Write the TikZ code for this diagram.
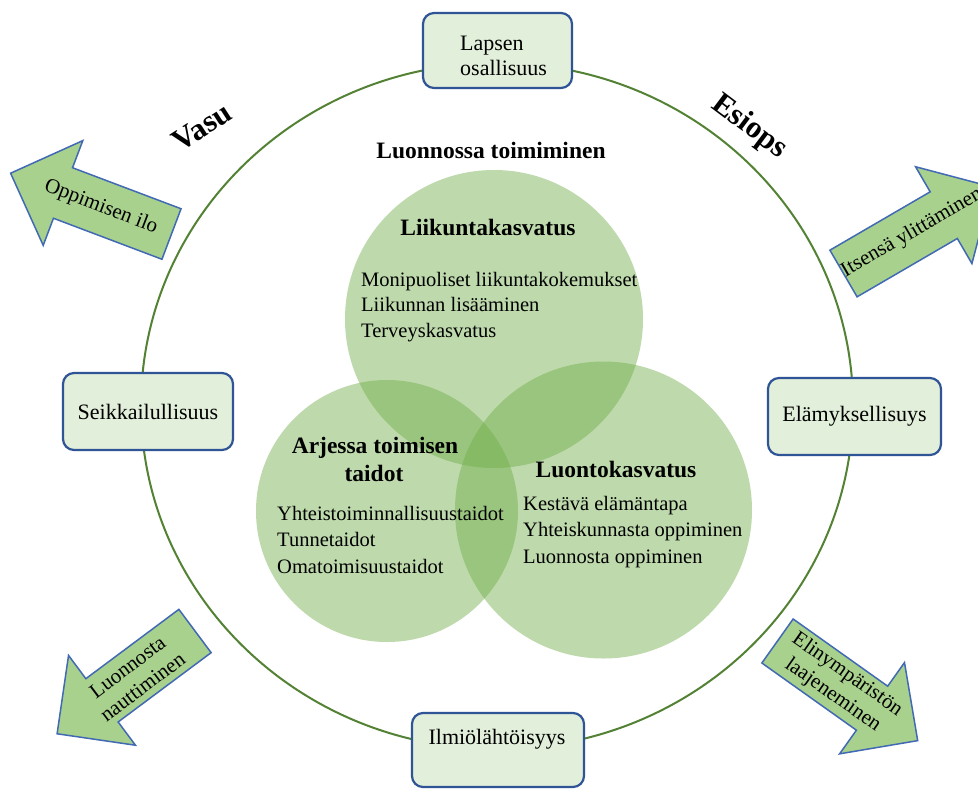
\documentclass[tikz,border=0pt]{standalone}
\usepackage{fontspec}
\setmainfont{Liberation Serif}
\usetikzlibrary{shapes.geometric}
\definecolor{boxblue}{RGB}{47,85,151}
\definecolor{boxfill}{RGB}{226,239,218}
\definecolor{arrfill}{RGB}{169,209,142}
\definecolor{arrblue}{RGB}{65,105,180}
\definecolor{ringgreen}{RGB}{84,130,53}
\definecolor{venngreen}{RGB}{112,173,71}
\tikzset{
  box/.style={draw=boxblue, fill=boxfill, line width=2.2pt, rounded corners=11pt, inner sep=0pt},
  arr/.style={draw=arrblue, fill=arrfill, line width=1.5pt, line join=miter},
  venn/.style={circle, fill=venngreen, fill opacity=0.45, inner sep=0pt},
  itemtext/.style={font=\fontsize{20.5}{25}\selectfont, inner sep=0pt},
  headtext/.style={font=\bfseries\fontsize{23.5}{28}\selectfont, inner sep=0pt},
  boxtext/.style={font=\fontsize{22}{28}\selectfont, inner sep=0pt},
  arrtext/.style={font=\fontsize{21}{25}\selectfont, inner sep=0pt, align=center},
  bigtext/.style={font=\bfseries\fontsize{31}{36}\selectfont, inner sep=0pt}
}
\newcommand\greenarrow[2]{%
  \begin{scope}[shift={#1}, rotate=#2]
    \draw[arr] (0,-27) -- (116,-27) -- (116,-56) -- (172,0) -- (116,56) -- (116,27) -- (0,27) -- cycle;
  \end{scope}}
\begin{document}
\begin{tikzpicture}[x=1pt,y=-1pt]
\useasboundingbox (0,0) rectangle (978,788);
\clip (0,0) rectangle (978,788);
\fill[white] (0,0) rectangle (978,788);

% outer ring
\node[ellipse, draw=ringgreen, line width=2pt, minimum width=712pt, minimum height=686pt, inner sep=0pt] (ring) at (497,406) {};

% boxes on the ring
\node[box, minimum width=149pt, minimum height=75pt] (lapsen) at (497.5,50.5) {};
\node[boxtext, anchor=base west] (lapsen1) at (460,50) {Lapsen};
\node[boxtext, anchor=base west] (lapsen2) at (460,75) {osallisuus};
\node[box, boxtext, minimum width=170pt, minimum height=77pt] (seikk) at (148,411.5) {Seikkailullisuus};
\node[box, boxtext, minimum width=173pt, minimum height=77pt] (elam) at (854.5,416.5) {Elämyksellisuys};
\node[box, minimum width=172pt, minimum height=74pt] (ilmio) at (498,750) {};
\node[boxtext, anchor=base] (ilmiot) at (497,744) {Ilmiölähtöisyys};

% venn circles
\node[venn, minimum size=298pt] (liikc) at (494,319) {};
\node[venn, minimum size=262pt] (arjc) at (387,511) {};
\node[venn, minimum size=297pt] (luontc) at (603.5,510) {};

% texts in the centre
\node[headtext, anchor=base] (title) at (491,158) {Luonnossa toimiminen};
\node[headtext, anchor=base] (liikh) at (488,235) {Liikuntakasvatus};
\node[itemtext, anchor=base west] (l1) at (361,286) {Monipuoliset liikuntakokemukset};
\node[itemtext, anchor=base west] (l2) at (361,311.5) {Liikunnan lisääminen};
\node[itemtext, anchor=base west] (l3) at (361,337) {Terveyskasvatus};

\node[headtext, anchor=base] (arjh1) at (375,453) {Arjessa toimisen};
\node[headtext, anchor=base] (arjh2) at (374,481) {taidot};
\node[itemtext, anchor=base west] (a1) at (277,520) {Yhteistoiminnallisuustaidot};
\node[itemtext, anchor=base west] (a2) at (277,546.5) {Tunnetaidot};
\node[itemtext, anchor=base west] (a3) at (277,573) {Omatoimisuustaidot};

\node[headtext, anchor=base] (luonh) at (616,477) {Luontokasvatus};
\node[itemtext, anchor=base west] (n1) at (523,510) {Kestävä elämäntapa};
\node[itemtext, anchor=base west] (n2) at (523,536.5) {Yhteiskunnasta oppiminen};
\node[itemtext, anchor=base west] (n3) at (523,563) {Luonnosta oppiminen};

% block arrows
\greenarrow{(171.5,234)}{159.3}
\greenarrow{(843.5,273.5)}{30.2}
\greenarrow{(195,631)}{216.7}
\greenarrow{(777.5,641)}{-35.4}
\node[arrtext, rotate=-21] (t1) at (101,207) {Oppimisen ilo};
\node[arrtext, rotate=30] (t2) at (912,233) {Itsensä ylittäminen};
\node[arrtext, rotate=37] (t3) at (135,677) {Luonnosta\\nauttiminen};
\node[arrtext, rotate=-35] (t4) at (840,685) {Elinympäristön\\laajeneminen};

% side labels
\node[bigtext, rotate=33] (vasu) at (202,127) {Vasu};
\node[bigtext, rotate=-37] (esiops) at (749,127) {Esiops};
\end{tikzpicture}
\end{document}
